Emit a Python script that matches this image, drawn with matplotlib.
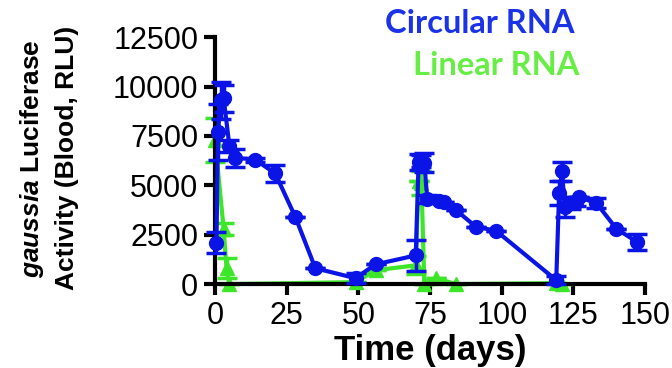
import matplotlib
matplotlib.use('Agg')
import matplotlib.pyplot as plt
import numpy as np

plt.rcParams['font.family'] = ['Liberation Sans', 'DejaVu Sans']
plt.rcParams['mathtext.fontset'] = 'custom'
plt.rcParams['mathtext.it'] = 'Liberation Sans:italic:bold'
plt.rcParams['mathtext.rm'] = 'Liberation Sans:bold'

# Circular RNA (blue)
circ_days = [0.5, 1, 2, 3, 5, 7, 14, 21, 28, 35, 49, 56, 70, 71, 72, 73, 74,
             78, 80, 84, 91, 98, 119, 120, 121, 122, 124, 126, 127, 133, 140, 147]
circ_vals = [2100, 7700, 9300, 9400, 7000, 6400, 6300, 5600, 3400, 800, 300, 1000,
             1450, 6200, 6250, 6150, 4300, 4200, 4150, 3750, 2900, 2700, 200, 4600,
             5700, 3900, 4100, 4150, 4400, 4100, 2800, 2150]
circ_err = [550, 1400, 950, 700, 300, 450, 100, 450, 0, 0, 250, 0,
            800, 400, 300, 500, 200, 0, 0, 0, 0, 0, 200, 600,
            500, 500, 300, 200, 0, 250, 0, 400]

# Linear RNA (green)
lin_days = [0, 3, 4, 5, 49, 56, 70, 71, 72, 73, 77, 84, 119, 121]
lin_vals = [7300, 2800, 800, 0, 100, 700, 950, 5200, 5100, 0, 300, 0, 50, 0]
lin_err = [1100, 300, 500, 0, 0, 0, 450, 0, 600, 0, 0, 0, 0, 0]

x_ticks = [0, 25, 50, 75, 100, 125, 150]
y_ticks = [0, 2500, 5000, 7500, 10000, 12500]

blue = '#0a14e6'
green = '#3ee62a'

fig = plt.figure(figsize=(6.72, 3.68), dpi=100)
ax = fig.add_axes([0.32, 0.228, 0.64, 0.671])

ax.errorbar(lin_days, lin_vals, yerr=lin_err, color=green, lw=3, marker='^',
            ms=10, capsize=7, capthick=2.5, elinewidth=2.5, clip_on=False, zorder=2)
ax.errorbar(circ_days, circ_vals, yerr=circ_err, color=blue, lw=3, marker='o',
            ms=10, capsize=7, capthick=2.5, elinewidth=2.5, clip_on=False, zorder=3)

ax.set_xlim(0, 150)
ax.set_ylim(0, 12500)
ax.set_xticks(x_ticks)
ax.set_yticks(y_ticks)
ax.tick_params(width=3, length=8, labelsize=22, pad=4)

for s in ['top', 'right']:
    ax.spines[s].set_visible(False)
for s in ['left', 'bottom']:
    ax.spines[s].set_linewidth(3)

ax.set_xlabel('Time (days)', fontsize=25, fontweight='bold', labelpad=2)

fig.text(0.048, 0.57, r'$\it{gaussia}$ Luciferase', rotation=90, fontsize=19,
         fontweight='bold', ha='center', va='center')
fig.text(0.1, 0.57, 'Activity (Blood, RLU)', rotation=90, fontsize=19,
         fontweight='bold', ha='center', va='center')

fig.text(385 / 672, 1 - 33 / 368, 'Circular RNA', color='#1a32e8', fontsize=23.5,
         fontweight='bold', family='Lato', ha='left', va='baseline')
fig.text(413 / 672, 1 - 75 / 368, 'Linear RNA', color='#66ee44', fontsize=23.5,
         fontweight='bold', family='Lato', ha='left', va='baseline')

fig.savefig('out.png', dpi=100)
